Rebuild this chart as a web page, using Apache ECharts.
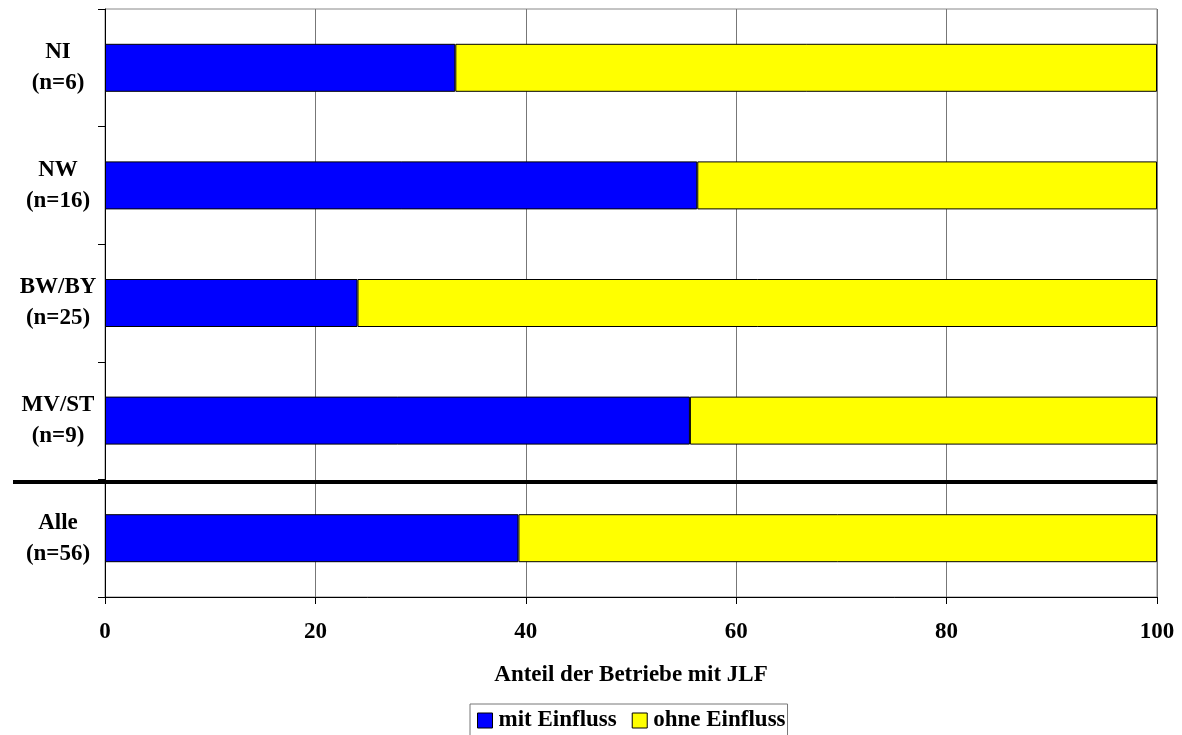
<!DOCTYPE html>
<html>
<head>
<meta charset="utf-8">
<script src="https://cdn.jsdelivr.net/npm/echarts@6/dist/echarts.min.js"></script>
<style>
  html, body { margin: 0; padding: 0; background: #fff; }
  #chart { width: 1182px; height: 735px; }
</style>
</head>
<body>
<div id="chart"></div>
<script>
// Regions (top to bottom) with sample sizes
const categories = ['NI\n(n=6)', 'NW\n(n=16)', 'BW/BY\n(n=25)', 'MV/ST\n(n=9)', 'Alle\n(n=56)'];
// Share of farms (%) with influence
const mitEinfluss = [33.3, 56.3, 24.0, 55.6, 39.3];
// Share of farms (%) without influence
const ohneEinfluss = [66.7, 43.7, 76.0, 44.4, 60.7];
const xTicks = [0, 20, 40, 60, 80, 100];

const FONT = '"Liberation Serif", "Times New Roman", serif';
const chart = echarts.init(document.getElementById('chart'));

chart.setOption({
  animation: false,
  textStyle: { fontFamily: FONT, color: '#000' },
  grid: {
    left: 105, right: 25, top: 9, bottom: 138,
    show: true, borderColor: '#888', borderWidth: 1
  },
  legend: {
    top: 704,
    left: 470,
    data: ['mit Einfluss', 'ohne Einfluss'],
    icon: 'rect',
    itemWidth: 15,
    itemHeight: 15,
    itemGap: 15,
    padding: [5, 2, 10, 7],
    borderColor: '#777',
    borderWidth: 1,
    itemStyle: { borderColor: '#000', borderWidth: 1 },
    textStyle: { fontFamily: FONT, fontWeight: 'bold', fontSize: 23, color: '#000', padding: [0, 0, 0, 1] }
  },
  xAxis: {
    type: 'value',
    min: 0, max: 100, interval: 20,
    name: 'Anteil der Betriebe mit JLF',
    nameLocation: 'middle',
    nameGap: 67,
    nameTextStyle: { fontFamily: FONT, fontWeight: 'bold', fontSize: 23, color: '#000' },
    axisLine: { show: true, lineStyle: { color: '#000', width: 1 } },
    axisTick: { show: true, length: 7, lineStyle: { color: '#000' } },
    axisLabel: {
      margin: 24,
      fontFamily: FONT, fontWeight: 'bold', fontSize: 23, color: '#000',
      formatter: v => xTicks.includes(v) ? String(v) : ''
    },
    splitLine: { show: true, lineStyle: { color: '#777', width: 1 } }
  },
  yAxis: {
    type: 'category',
    inverse: true,
    data: categories,
    axisLine: { show: true, lineStyle: { color: '#000', width: 1 } },
    axisTick: { show: true, length: 7, lineStyle: { color: '#000' } },
    axisLabel: {
      margin: 47,
      fontFamily: FONT, fontWeight: 'bold', fontSize: 23, color: '#000',
      lineHeight: 31, align: 'center'
    }
  },
  series: [
    {
      name: 'mit Einfluss',
      type: 'bar',
      stack: 'total',
      barWidth: 48,
      data: mitEinfluss,
      itemStyle: { color: '#0000ff', borderColor: '#000', borderWidth: 1 }
    },
    {
      name: 'ohne Einfluss',
      type: 'bar',
      stack: 'total',
      barWidth: 48,
      data: ohneEinfluss,
      itemStyle: { color: '#ffff00', borderColor: '#000', borderWidth: 1 }
    }
  ]
});

// Thick separator between the regional rows and the overall row
function drawSeparator() {
  const yA = chart.convertToPixel({ yAxisIndex: 0 }, categories[3]);
  const yB = chart.convertToPixel({ yAxisIndex: 0 }, categories[4]);
  const y = Math.round((yA + yB) / 2) + 3;
  const xRight = chart.convertToPixel({ xAxisIndex: 0 }, 100);
  chart.setOption({
    graphic: [{
      type: 'line',
      z: 100,
      shape: { x1: 13, y1: y, x2: xRight, y2: y },
      style: { stroke: '#000', lineWidth: 4 }
    }]
  });
}
drawSeparator();
</script>
</body>
</html>
